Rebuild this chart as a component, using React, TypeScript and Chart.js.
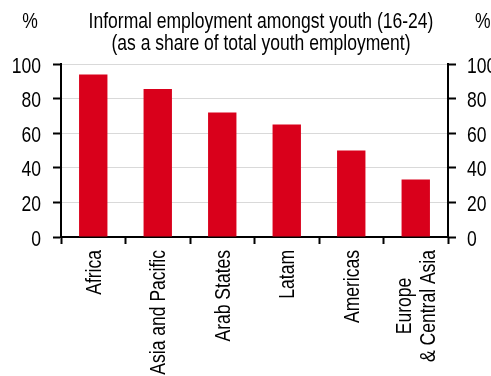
import React, { useEffect, useRef } from "react";
import { Chart, registerables } from "chart.js";

Chart.register(...registerables);

const categories: string[][] = [
  ["Africa"],
  ["Asia and Pacific"],
  ["Arab States"],
  ["Latam"],
  ["Americas"],
  ["Europe", "& Central Asia"],
];
const informalShare = [94, 85.5, 72, 65, 50, 33.3];
const yTicks = [0, 20, 40, 60, 80, 100];
const titleLines = [
  "Informal employment amongst youth (16-24)",
  "(as a share of total youth employment)",
];
const unitLabel = "%";

const FONT_FAMILY = "'Liberation Sans', Arial, sans-serif";
const FONT_SIZE = 21.5;
const CONDENSE = 0.815;
const CAP = FONT_SIZE * 0.716;
const RED = "#D9001B";

function condensedText(
  ctx: CanvasRenderingContext2D,
  text: string,
  x: number,
  y: number,
  align: CanvasTextAlign,
  rotate = 0
) {
  ctx.save();
  ctx.translate(x, y);
  if (rotate) ctx.rotate(rotate);
  ctx.scale(CONDENSE, 1);
  ctx.textAlign = align;
  ctx.textBaseline = "alphabetic";
  ctx.fillText(text, 0, 0);
  ctx.restore();
}

const textPlugin = {
  id: "condensedText",
  afterDraw(chart: any) {
    const ctx: CanvasRenderingContext2D = chart.ctx;
    const xs = chart.scales.x;
    const ys = chart.scales.y;
    const ys2 = chart.scales.y2;
    ctx.save();
    ctx.fillStyle = "#000";
    ctx.font = `${FONT_SIZE}px ${FONT_FAMILY}`;

    // title + units
    const titleX = 261;
    condensedText(ctx, titleLines[0], titleX, 27.5, "center");
    condensedText(ctx, titleLines[1], titleX, 50, "center");
    condensedText(ctx, unitLabel, 30, 27.5, "center");
    condensedText(ctx, unitLabel, 475, 27.5, "left");

    // y tick labels
    yTicks.forEach((v) => {
      const py = ys.getPixelForValue(v) + CAP / 2 + 1;
      condensedText(ctx, String(v), ys.right - 20, py, "right");
      const py2 = ys2.getPixelForValue(v) + CAP / 2 + 1;
      condensedText(ctx, String(v), ys2.left + 19, py2, "left");
    });

    // x tick labels (rotated, reading upward)
    const top = xs.top + 13;
    const lineH = 24;
    categories.forEach((lines, i) => {
      const cx = xs.getPixelForTick(i);
      const widths = lines.map((l) => ctx.measureText(l).width * CONDENSE);
      const maxW = Math.max(...widths);
      const n = lines.length;
      lines.forEach((line, j) => {
        const off = (j - (n - 1) / 2) * lineH + CAP / 2;
        ctx.save();
        ctx.translate(cx + off, top);
        ctx.rotate(-Math.PI / 2);
        ctx.scale(CONDENSE, 1);
        ctx.textAlign = "center";
        ctx.textBaseline = "alphabetic";
        ctx.fillText(line, -maxW / 2 / CONDENSE, 0);
        ctx.restore();
      });
    });
    ctx.restore();
  },
};

export default function App() {
  const ref = useRef<HTMLCanvasElement>(null);
  useEffect(() => {
    if (!ref.current) return;
    const chart = new Chart(ref.current, {
      type: "bar",
      data: {
        labels: categories.map((l) => l.join(" ")),
        datasets: [
          {
            data: informalShare,
            backgroundColor: RED,
            borderWidth: 0,
            categoryPercentage: 1,
            barPercentage: 0.44,
            yAxisID: "y",
          },
        ],
      },
      options: {
        animation: false,
        responsive: false,
        maintainAspectRatio: false,
        layout: { padding: { top: 64, left: 0, right: 0, bottom: 0 } },
        plugins: {
          legend: { display: false },
          tooltip: { enabled: false },
          title: { display: false },
        },
        scales: {
          x: {
            offset: true,
            afterFit: (s: any) => {
              s.height = 139;
            },
            grid: {
              display: true,
              drawOnChartArea: false,
              drawTicks: true,
              tickLength: 7,
              tickColor: "#000",
              tickWidth: 2,
              color: "#000",
              offset: true,
            },
            border: { display: true, color: "#000", width: 2 },
            ticks: { display: false, autoSkip: false },
          },
          y: {
            position: "left",
            min: 0,
            max: 100,
            afterFit: (s: any) => {
              s.width = 61;
            },
            grid: {
              color: "#d9d9d9",
              lineWidth: 1,
              drawTicks: true,
              tickLength: 8,
              tickColor: "#000",
              tickWidth: 2,
            },
            border: { display: true, color: "#000", width: 2 },
            ticks: { stepSize: 20, display: false },
          },
          y2: {
            position: "right",
            min: 0,
            max: 100,
            afterFit: (s: any) => {
              s.width = 43;
            },
            grid: {
              drawOnChartArea: false,
              drawTicks: true,
              tickLength: 8,
              tickColor: "#000",
              tickWidth: 2,
            },
            border: { display: true, color: "#000", width: 2 },
            ticks: { stepSize: 20, display: false },
          },
        },
      },
      plugins: [textPlugin],
    });
    return () => chart.destroy();
  }, []);
  return (
    <div
      style={{
        position: "fixed",
        left: 0,
        top: 0,
        width: 491,
        height: 376,
        overflow: "hidden",
        background: "#fff",
      }}
    >
      <canvas ref={ref} width={491} height={376} style={{ display: "block" }} />
    </div>
  );
}
